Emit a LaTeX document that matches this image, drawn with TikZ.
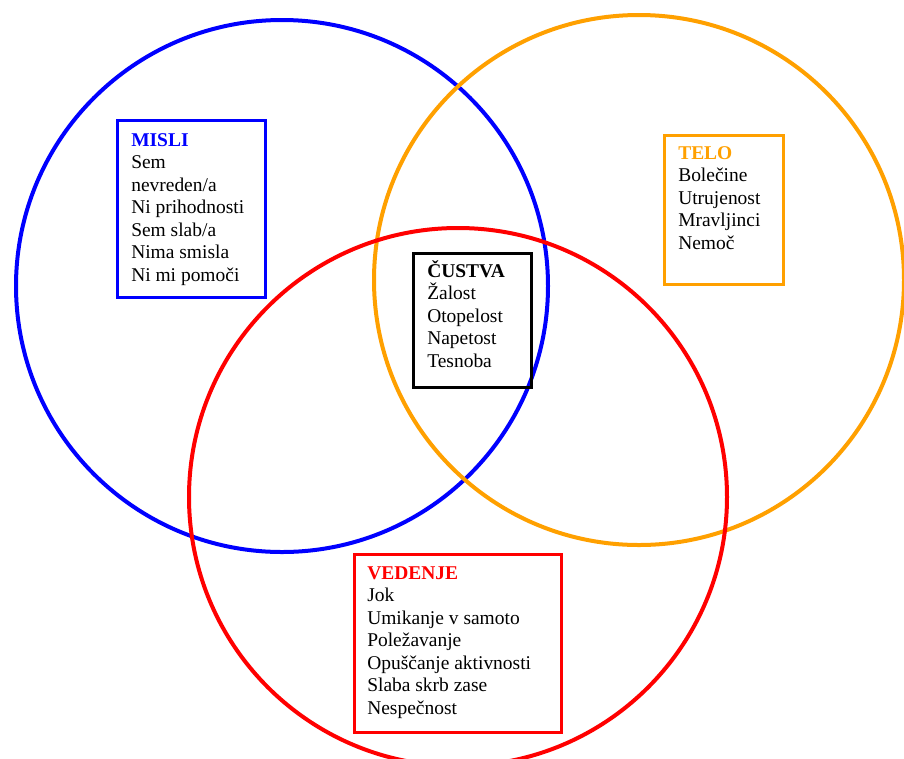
\documentclass[tikz,border=0pt]{standalone}
\usepackage{fontspec}
\setmainfont{Liberation Serif}
\usetikzlibrary{positioning}
\definecolor{telo}{RGB}{255,160,0}

\begin{document}
\begin{tikzpicture}[x=0.75pt, y=-0.75pt,
		ring/.style={line width=3pt},
		frame/.style={draw, line width=2.25pt, anchor=north west, inner sep=0pt},
		list/.style={anchor=north west, inner sep=0pt, align=left,
			font=\fontsize{14.6}{16.9}\selectfont}]

\useasboundingbox (0,0) rectangle (904,758);

% circles
\draw[ring, blue] (282,286) circle (266);
\draw[ring, telo] (639,280) circle (265);
\draw[ring, red] (458,497) circle (269);

% boxes
\node[frame, blue, minimum width=111pt, minimum height=132.75pt] (mislibox) at (116,119) {};
\node[frame, telo, minimum width=89.25pt, minimum height=111.75pt] (telobox) at (663,134) {};
\node[frame, black, minimum width=88.5pt, minimum height=100.5pt] (custvabox) at (412,252) {};
\node[frame, red, minimum width=155.25pt, minimum height=133.5pt] (vedenjebox) at (353,553) {};

% texts
\node[list] (misli) at (131,133) {\textcolor{blue}{\textbf{MISLI}}\\Sem\\nevreden/a\\Ni prihodnosti\\Sem slab/a\\Nima smisla\\Ni mi pomoči};
\node[list] (telo) at (678,146) {\textcolor{telo}{\textbf{TELO}}\\Bolečine\\Utrujenost\\Mravljinci\\Nemoč};
\node[list] (custva) at (427,260) {\textbf{ČUSTVA}\\Žalost\\Otopelost\\Napetost\\Tesnoba};
\node[list] (vedenje) at (367,566) {\textcolor{red}{\textbf{VEDENJE}}\\Jok\\Umikanje v samoto\\Poležavanje\\Opuščanje aktivnosti\\Slaba skrb zase\\Nespečnost};

\end{tikzpicture}
\end{document}
